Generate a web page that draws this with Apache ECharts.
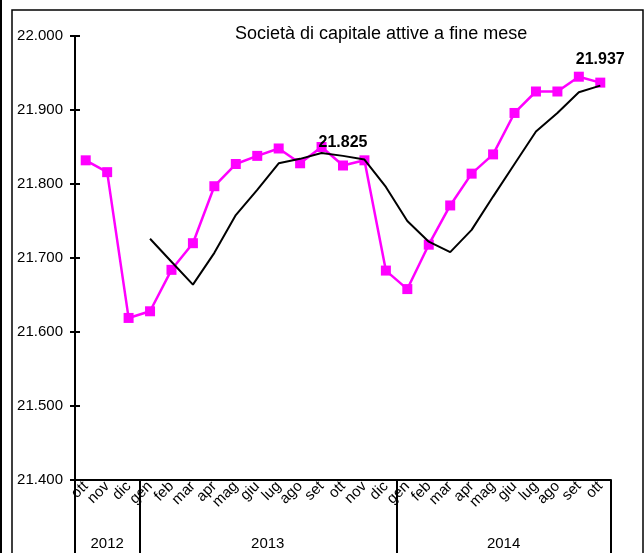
<!DOCTYPE html>
<html>
<head>
<meta charset="utf-8">
<script src="https://cdn.jsdelivr.net/npm/echarts@6/dist/echarts.min.js"></script>
<style>
  html, body { margin: 0; padding: 0; background: #fff; }
  #chart { width: 644px; height: 553px; }
</style>
</head>
<body>
<div id="chart"></div>
<script>
// months from ott 2012 to ott 2014
const months = ['ott', 'nov', 'dic',
  'gen', 'feb', 'mar', 'apr', 'mag', 'giu', 'lug', 'ago', 'set', 'ott', 'nov', 'dic',
  'gen', 'feb', 'mar', 'apr', 'mag', 'giu', 'lug', 'ago', 'set', 'ott'];
const years = ['2012', '2013', '2014'];
const yearStart = [0, 3, 15];

// stock at month end (thousands)
const monthly = [21.832, 21.816, 21.619,
  21.628, 21.684, 21.720, 21.797, 21.827, 21.838, 21.848, 21.828, 21.850, 21.825, 21.832, 21.683,
  21.658, 21.718, 21.771, 21.814, 21.840, 21.896, 21.925, 21.925, 21.945, 21.937];
// trend line
const trend = [null, null, null,
  21.726, 21.695, 21.664, 21.707, 21.758, 21.792, 21.828, 21.834, 21.842, 21.838, 21.833, 21.796,
  21.750, 21.722, 21.708, 21.738, 21.783, 21.827, 21.871, 21.896, 21.924, 21.933];
const labelled = [12, 24];

const yMin = 21.4, yMax = 22.0, yStep = 0.1;

// year of each month, for the second category row
const yearAxis = months.map((m, i) => {
  let k = 0;
  yearStart.forEach((s, j) => { if (i >= s) k = j; });
  return years[k];
});
// label each year near the middle of its group
const yearLabelAt = {};
yearStart.forEach((s, j) => {
  const end = j + 1 < yearStart.length ? yearStart[j + 1] : months.length;
  const mid = (s + end - 1) / 2;
  yearLabelAt[Math.floor(mid)] = { text: years[j], half: mid % 1 !== 0 };
});

const chart = echarts.init(document.getElementById('chart'));
const font = 'Liberation Sans, Arial, sans-serif';

const option = {
  animation: false,
  backgroundColor: '#fff',
  textStyle: { fontFamily: font },
  title: {
    text: 'Società di capitale attive a fine mese',
    left: 230,
    top: 20,
    textStyle: { fontSize: 18, fontWeight: 'normal', color: '#000', fontFamily: font }
  },
  graphic: [
    { type: 'line', shape: { x1: 1, y1: 0, x2: 1, y2: 553 }, style: { stroke: '#000', lineWidth: 2 } },
    { type: 'rect', shape: { x: 12, y: 10, width: 631, height: 560 }, style: { fill: 'none', stroke: '#000', lineWidth: 1.5 } }
  ],
  grid: { left: 75, right: 33, top: 36, bottom: 73 },
  xAxis: [
    {
      type: 'category',
      data: months,
      position: 'bottom',
      axisLine: { lineStyle: { color: '#000', width: 2 } },
      axisTick: { show: false },
      axisLabel: { rotate: 45, margin: 4, interval: 0, fontSize: 15, color: '#000', fontFamily: font }
    },
    {
      type: 'category',
      data: yearAxis,
      position: 'bottom',
      axisLine: { show: false },
      axisTick: {
        show: true,
        length: 90,
        interval: (i) => yearStart.indexOf(i) >= 0,
        lineStyle: { color: '#000', width: 2 }
      },
      axisLabel: {
        interval: 0,
        margin: 56,
        color: '#000',
        fontSize: 15,
        fontFamily: font,
        formatter: (v, i) => {
          const l = yearLabelAt[i];
          if (!l) return '';
          return l.half ? '{h|' + l.text + '}' : l.text;
        },
        rich: { h: { fontSize: 15, fontFamily: font, color: '#000', padding: [0, 0, 0, 21] } }
      }
    }
  ],
  yAxis: [
    {
      type: 'value',
      position: 'left',
      min: yMin, max: yMax, interval: yStep,
      axisLine: { show: true, lineStyle: { color: '#000', width: 2 } },
      axisTick: { show: true, length: 5, lineStyle: { color: '#000', width: 2 } },
      splitLine: { show: false },
      axisLabel: { margin: 12, fontSize: 15, color: '#000', fontFamily: font, formatter: (v) => v.toFixed(3) }
    },
    {
      type: 'value',
      position: 'left',
      offset: 0,
      min: yMin, max: yMax, interval: yStep,
      axisLine: { show: false },
      axisTick: { show: true, inside: true, length: 5, lineStyle: { color: '#000', width: 2 } },
      splitLine: { show: false },
      axisLabel: { show: false }
    }
  ],
  series: [
    {
      type: 'line',
      data: monthly.map((v, i) => labelled.indexOf(i) >= 0
        ? { value: v, label: { show: true } }
        : v),
      symbol: 'rect',
      symbolSize: 10,
      itemStyle: { color: '#ff00ff' },
      lineStyle: { color: '#ff00ff', width: 2.5 },
      label: {
        show: false,
        position: 'top',
        distance: 10,
        fontSize: 16,
        fontWeight: 'bold',
        color: '#000',
        fontFamily: font,
        formatter: (p) => p.value.toFixed(3)
      },
      z: 2
    },
    {
      type: 'line',
      data: trend,
      symbol: 'none',
      lineStyle: { color: '#000', width: 2 },
      z: 3
    }
  ]
};

chart.setOption(option);
</script>
</body>
</html>
